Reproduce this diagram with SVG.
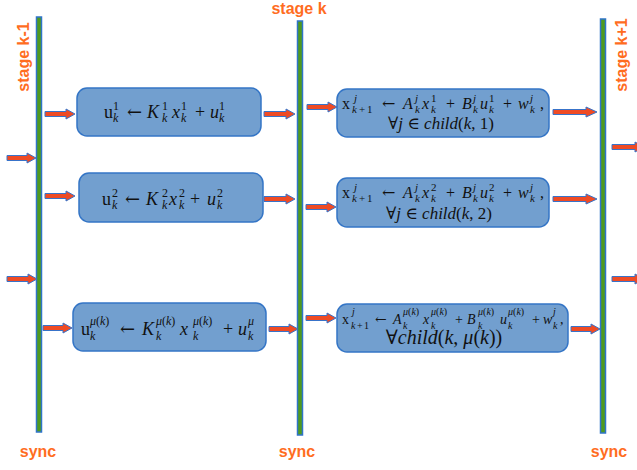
<svg xmlns="http://www.w3.org/2000/svg" width="637" height="470" viewBox="0 0 637 470">
<style>
.bar{fill:#4f9a1e;stroke:#2f74c8;stroke-width:1.5}
.box{fill:#729fcf;stroke:#3475c6;stroke-width:1.5}
.arr{fill:#ef4b24;stroke:#3873c9;stroke-width:1}
.lbl{font-family:"Liberation Sans",Arial,sans-serif;font-weight:bold;font-size:16px;fill:#ff6d1f}
.m{font-family:"Liberation Serif","DejaVu Serif",serif;fill:#111}
.i{font-style:italic}
.ar{font-family:"DejaVu Serif",serif}
</style>
<rect width="637" height="470" fill="#fff"/>
<g id="stage-k-1">
<rect class="bar" x="36.5" y="17" width="5" height="415"/>
<text class="lbl" transform="translate(29,57) rotate(-90)" text-anchor="middle">stage k-1</text>
<text class="lbl" x="38" y="457" text-anchor="middle">sync</text>
</g>
<g id="stage-k">
<rect class="bar" x="297.5" y="21" width="5" height="414"/>
<text class="lbl" x="299" y="14" text-anchor="middle">stage k</text>
<text class="lbl" x="297" y="457" text-anchor="middle">sync</text>
</g>
<g id="stage-k1">
<rect class="bar" x="600.5" y="19" width="5" height="414"/>
<text class="lbl" transform="translate(627,55) rotate(-90)" text-anchor="middle">stage k+1</text>
<text class="lbl" x="609" y="457" text-anchor="middle">sync</text>
</g>

<g id="box-u1">
<rect class="box" x="77" y="88" width="184" height="48" rx="10"/>
<text class="m" font-size="18" y="118"><tspan x="104">u</tspan><tspan x="113" y="110" font-size="12">1</tspan><tspan x="113" y="122" font-size="12" class="i">k</tspan><tspan x="127" y="118" class="ar">←</tspan><tspan x="147" class="i">K</tspan><tspan x="162" y="110" font-size="12">1</tspan><tspan x="162" y="122" font-size="12" class="i">k</tspan><tspan x="172" y="118" class="i">x</tspan><tspan x="181" y="110" font-size="12">1</tspan><tspan x="181" y="122" font-size="12" class="i">k</tspan><tspan x="195" y="118">+</tspan><tspan x="210" class="i">u</tspan><tspan x="219" y="110" font-size="12">1</tspan><tspan x="219" y="122" font-size="12" class="i">k</tspan></text>
</g>
<g id="box-u2">
<rect class="box" x="79" y="173" width="184" height="49" rx="10"/>
<text class="m" font-size="18" y="205"><tspan x="102">u</tspan><tspan x="112" y="197" font-size="12">2</tspan><tspan x="112" y="209" font-size="12" class="i">k</tspan><tspan x="125" y="205" class="ar">←</tspan><tspan x="146" class="i">K</tspan><tspan x="162" y="197" font-size="12">2</tspan><tspan x="162" y="209" font-size="12" class="i">k</tspan><tspan x="169" y="205" class="i">x</tspan><tspan x="179" y="197" font-size="12">2</tspan><tspan x="179" y="209" font-size="12" class="i">k</tspan><tspan x="190" y="205">+</tspan><tspan x="207" class="i">u</tspan><tspan x="217" y="197" font-size="12">2</tspan><tspan x="217" y="209" font-size="12" class="i">k</tspan></text>
</g>
<g id="box-umu">
<rect class="box" x="73" y="303" width="193" height="48" rx="10"/>
<text class="m" font-size="18" y="335"><tspan x="81">u</tspan><tspan x="90" y="325" font-size="12"><tspan class="i">μ</tspan>(<tspan class="i">k</tspan>)</tspan><tspan x="90" y="340" font-size="12" class="i">k</tspan><tspan x="120" y="335" class="ar">←</tspan><tspan x="142" class="i">K</tspan><tspan x="156" y="325" font-size="12"><tspan class="i">μ</tspan>(<tspan class="i">k</tspan>)</tspan><tspan x="156" y="340" font-size="12" class="i">k</tspan><tspan x="180" y="335" class="i">x</tspan><tspan x="193" y="325" font-size="12"><tspan class="i">μ</tspan>(<tspan class="i">k</tspan>)</tspan><tspan x="193" y="340" font-size="12" class="i">k</tspan><tspan x="223" y="335">+</tspan><tspan x="238" class="i">u</tspan><tspan x="248" y="325" font-size="12" class="i">μ</tspan><tspan x="248" y="340" font-size="12" class="i">k</tspan></text>
</g>

<g id="box-x1">
<rect class="box" x="337" y="89" width="212" height="48" rx="10"/>
<text class="m" font-size="16" y="109"><tspan x="342">x</tspan><tspan x="354" y="102" font-size="11" class="i">j</tspan><tspan x="352" y="113" font-size="11"><tspan class="i">k</tspan><tspan dx="2">+</tspan><tspan dx="2">1</tspan></tspan><tspan x="382" y="109" class="ar">←</tspan><tspan x="403" class="i">A</tspan><tspan x="415" y="102" font-size="11" class="i">j</tspan><tspan x="415" y="113" font-size="11" class="i">k</tspan><tspan x="422" y="109" class="i">x</tspan><tspan x="431" y="102" font-size="11">1</tspan><tspan x="431" y="113" font-size="11" class="i">k</tspan><tspan x="446" y="109">+</tspan><tspan x="462" class="i">B</tspan><tspan x="473" y="102" font-size="11" class="i">j</tspan><tspan x="473" y="113" font-size="11" class="i">k</tspan><tspan x="480" y="109" class="i">u</tspan><tspan x="489" y="102" font-size="11">1</tspan><tspan x="489" y="113" font-size="11" class="i">k</tspan><tspan x="503" y="109">+</tspan><tspan x="518" class="i">w</tspan><tspan x="530" y="102" font-size="11" class="i">j</tspan><tspan x="530" y="113" font-size="11" class="i">k</tspan><tspan x="540" y="109">,</tspan></text>
<text class="m" font-size="17" x="441" y="129" text-anchor="middle">∀<tspan class="i">j</tspan> ∈ <tspan class="i">child</tspan>(<tspan class="i">k</tspan>, 1)</text>
</g>
<g id="box-x2">
<rect class="box" x="337" y="178" width="212" height="49" rx="10"/>
<text class="m" font-size="16" y="198"><tspan x="342">x</tspan><tspan x="354" y="191" font-size="11" class="i">j</tspan><tspan x="352" y="202" font-size="11"><tspan class="i">k</tspan><tspan dx="2">+</tspan><tspan dx="2">1</tspan></tspan><tspan x="382" y="198" class="ar">←</tspan><tspan x="403" class="i">A</tspan><tspan x="415" y="191" font-size="11" class="i">j</tspan><tspan x="415" y="202" font-size="11" class="i">k</tspan><tspan x="422" y="198" class="i">x</tspan><tspan x="431" y="191" font-size="11">2</tspan><tspan x="431" y="202" font-size="11" class="i">k</tspan><tspan x="446" y="198">+</tspan><tspan x="462" class="i">B</tspan><tspan x="473" y="191" font-size="11" class="i">j</tspan><tspan x="473" y="202" font-size="11" class="i">k</tspan><tspan x="480" y="198" class="i">u</tspan><tspan x="489" y="191" font-size="11">2</tspan><tspan x="489" y="202" font-size="11" class="i">k</tspan><tspan x="503" y="198">+</tspan><tspan x="518" class="i">w</tspan><tspan x="530" y="191" font-size="11" class="i">j</tspan><tspan x="530" y="202" font-size="11" class="i">k</tspan><tspan x="540" y="198">,</tspan></text>
<text class="m" font-size="17" x="439" y="219" text-anchor="middle">∀<tspan class="i">j</tspan> ∈ <tspan class="i">child</tspan>(<tspan class="i">k</tspan>, 2)</text>
</g>
<g id="box-xmu">
<rect class="box" x="337" y="304" width="231" height="48" rx="10"/>
<text class="m" font-size="14" y="324"><tspan x="342">x</tspan><tspan x="352" y="315" font-size="10" class="i">j</tspan><tspan x="351" y="329" font-size="10"><tspan class="i">k</tspan><tspan dx="1.5">+</tspan><tspan dx="1.5">1</tspan></tspan><tspan x="375" y="324" class="ar">←</tspan><tspan x="393" class="i">A</tspan><tspan x="403" y="315" font-size="10"><tspan class="i">μ</tspan>(<tspan class="i">k</tspan>)</tspan><tspan x="403" y="329" font-size="10" class="i">k</tspan><tspan x="423" y="324" class="i">x</tspan><tspan x="431" y="315" font-size="10"><tspan class="i">μ</tspan>(<tspan class="i">k</tspan>)</tspan><tspan x="431" y="329" font-size="10" class="i">k</tspan><tspan x="455" y="324">+</tspan><tspan x="467" class="i">B</tspan><tspan x="478" y="315" font-size="10"><tspan class="i">μ</tspan>(<tspan class="i">k</tspan>)</tspan><tspan x="478" y="329" font-size="10" class="i">k</tspan><tspan x="500" y="324" class="i">u</tspan><tspan x="508" y="315" font-size="10"><tspan class="i">μ</tspan>(<tspan class="i">k</tspan>)</tspan><tspan x="508" y="329" font-size="10" class="i">k</tspan><tspan x="532" y="324">+</tspan><tspan x="543" class="i">w</tspan><tspan x="553" y="315" font-size="10" class="i">j</tspan><tspan x="553" y="329" font-size="10" class="i">k</tspan><tspan x="560" y="324">,</tspan></text>
<text class="m" font-size="20" x="444" y="344" text-anchor="middle">∀<tspan class="i">child</tspan>(<tspan class="i">k</tspan>, <tspan class="i">μ</tspan>(<tspan class="i">k</tspan>))</text>
</g>

<g id="connectors">
<path class="arr" d="M7 155.5 H27 V153 L36 158 L27 163 V160.5 H7 Z"/>
<path class="arr" d="M7 276.5 H28 V274 L37 279 L28 284 V281.5 H7 Z"/>
<path class="arr" d="M45 111.5 H66 V109 L75 114 L66 119 V116.5 H45 Z"/>
<path class="arr" d="M45 193.5 H66 V191 L75 196 L66 201 V198.5 H45 Z"/>
<path class="arr" d="M43 325.5 H63 V323 L72 328 L63 333 V330.5 H43 Z"/>
<path class="arr" d="M264 111.5 H286 V109 L295 114 L286 119 V116.5 H264 Z"/>
<path class="arr" d="M264 196.5 H286 V194 L295 199 L286 204 V201.5 H264 Z"/>
<path class="arr" d="M269 326.5 H289 V324 L298 329 L289 334 V331.5 H269 Z"/>
<path class="arr" d="M307 104.5 H328 V102 L337 107 L328 112 V109.5 H307 Z"/>
<path class="arr" d="M306 204.5 H327 V202 L336 207 L327 212 V209.5 H306 Z"/>
<path class="arr" d="M306 315.5 H327 V313 L336 318 L327 323 V320.5 H306 Z"/>
<path class="arr" d="M553 109.5 H586 V107 L597 112 L586 117 V114.5 H553 Z"/>
<path class="arr" d="M553 196.5 H586 V194 L597 199 L586 204 V201.5 H553 Z"/>
<path class="arr" d="M571 326.5 H591 V324 L600 329 L591 334 V331.5 H571 Z"/>
<path class="arr" d="M612 144.5 H635 V142 L644 147 L635 152 V149.5 H612 Z"/>
<path class="arr" d="M612 276.5 H635 V274 L644 279 L635 284 V281.5 H612 Z"/>
</g>
</svg>
